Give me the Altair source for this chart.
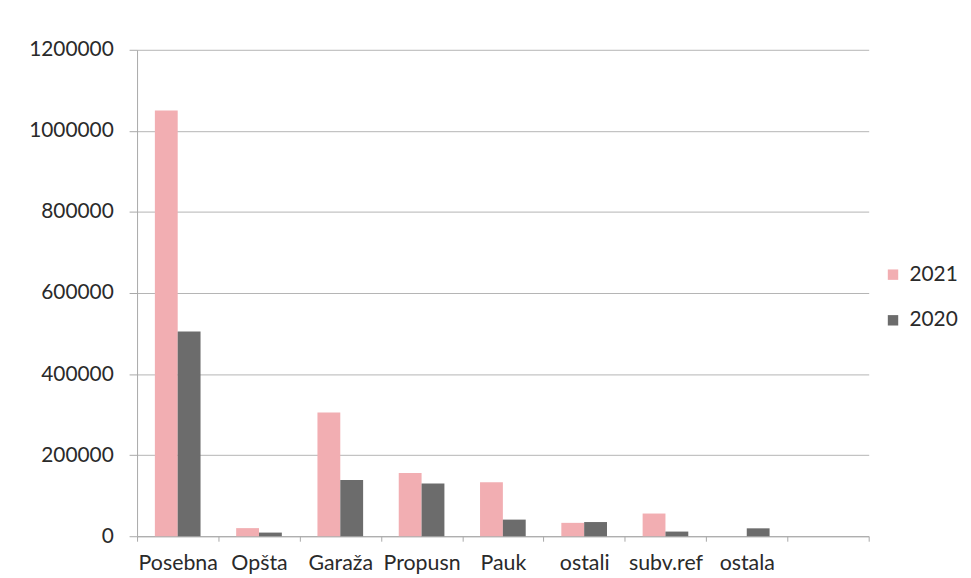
import altair as alt
import pandas as pd

categories = ["Posebna", "Opšta", "Garaža", "Propusn", "Pauk", "ostali", "subv.ref", "ostala", ""]
values_2021 = [1050000, 20000, 305000, 156000, 133000, 33000, 56000, 0, 0]
values_2020 = [505000, 9000, 139000, 130000, 41000, 35000, 11500, 19500, 0]
years = ["2021", "2020"]
colors = ["#f2aeb2", "#6c6c6c"]
y_ticks = [0, 200000, 400000, 600000, 800000, 1000000, 1200000]

rows = []
for c, a, b in zip(categories, values_2021, values_2020):
    rows.append({"kategorija": c, "godina": "2021", "iznos": a})
    rows.append({"kategorija": c, "godina": "2020", "iznos": b})
df = pd.DataFrame(rows)

FONT = "Lato"
TXT = "#2a2a2a"

chart = alt.Chart(df).mark_bar().encode(
    x=alt.X("kategorija:N", sort=categories,
            scale=alt.Scale(domain=categories, paddingInner=0, paddingOuter=0),
            axis=alt.Axis(title=None, labelAngle=0, tickBand="extent", grid=False,
                          domainColor="#a8a8a8", tickColor="#a8a8a8", tickSize=5,
                          labelPadding=12, labelFontSize=21.5, labelColor=TXT,
                          labelFont=FONT)),
    xOffset=alt.XOffset("godina:N", sort=years,
                        scale=alt.Scale(domain=years, paddingInner=0, paddingOuter=0.78)),
    y=alt.Y("iznos:Q", scale=alt.Scale(domain=[0, 1200000]),
            axis=alt.Axis(title=None, values=y_ticks, format="d", grid=True,
                          gridColor="#b4b4b4", domainColor="#a8a8a8", tickColor="#a8a8a8",
                          tickSize=8, labelPadding=16, labelFontSize=21,
                          labelColor=TXT, labelFont=FONT)),
    color=alt.Color("godina:N", sort=years,
                    scale=alt.Scale(domain=years, range=colors),
                    legend=alt.Legend(title=None, orient="none", legendX=751, legendY=216,
                                      symbolType="square", symbolSize=110,
                                      symbolStrokeWidth=0, labelFontSize=21,
                                      labelFont=FONT, labelColor=TXT,
                                      rowPadding=24, labelOffset=6)),
).properties(
    width=737, height=490,
    background="white",
    padding={"left": 20, "top": 29, "right": 5, "bottom": 5},
).configure_view(stroke=None, strokeWidth=0)

chart.save("out.html", embed_options={"renderer": "svg", "actions": False})
